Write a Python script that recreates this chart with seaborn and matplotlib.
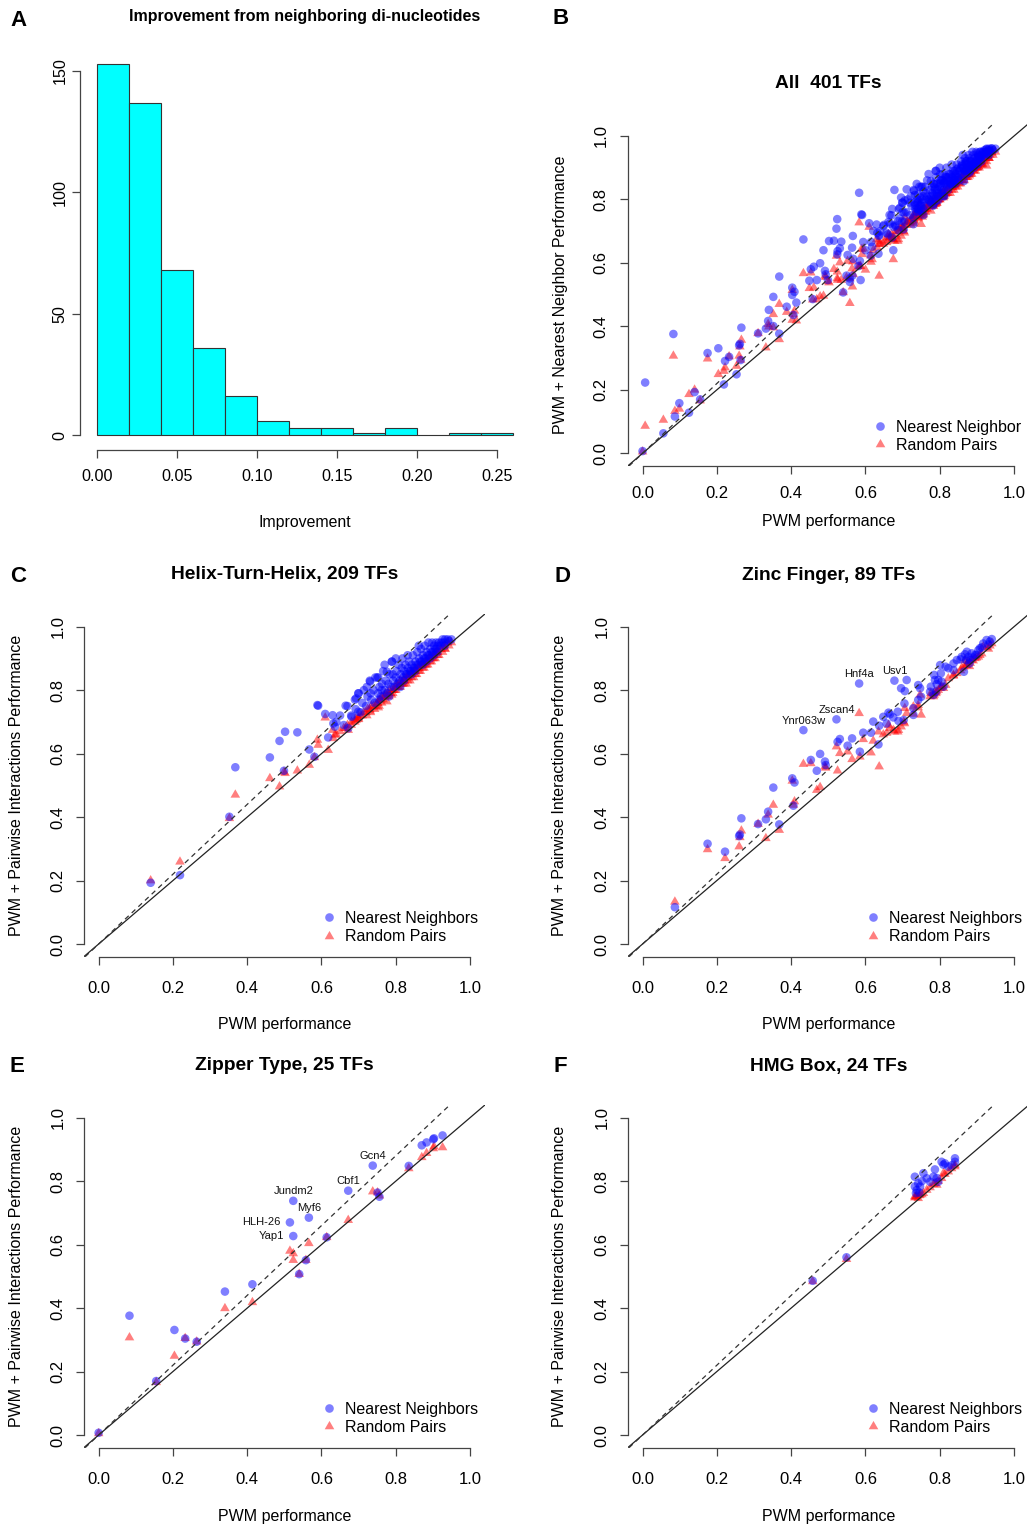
import matplotlib
matplotlib.use("Agg")
import matplotlib.pyplot as plt
import matplotlib.transforms as mtrans
from matplotlib.lines import Line2D
import numpy as np
import pandas as pd
import seaborn as sns

# ---------------- data ----------------
hist_edges = [0.00, 0.02, 0.04, 0.06, 0.08, 0.10, 0.12, 0.14, 0.16, 0.18, 0.20, 0.22, 0.24, 0.26]
hist_counts = [153, 137, 68, 36, 16, 6, 3, 3, 1, 3, 0, 1, 1]

# (PWM performance, PWM + nearest neighbours, PWM + random pairs)
htt_points = [
    (0.140, 0.193, 0.200), (0.219, 0.217, 0.259), (0.352, 0.401, 0.396), (0.368, 0.557, 0.470),
    (0.461, 0.588, 0.522), (0.487, 0.640, 0.496), (0.502, 0.669, 0.538), (0.499, 0.546, 0.542),
    (0.535, 0.667, 0.546), (0.567, 0.613, 0.564), (0.581, 0.590, 0.588), (0.589, 0.753, 0.643),
    (0.591, 0.751, 0.627), (0.610, 0.725, 0.713), (0.618, 0.651, 0.611), (0.630, 0.721, 0.674),
    (0.632, 0.695, 0.648), (0.636, 0.685, 0.659), (0.665, 0.751, 0.680), (0.672, 0.680, 0.674),
    (0.681, 0.716, 0.700), (0.693, 0.774, 0.705), (0.699, 0.790, 0.715), (0.699, 0.732, 0.708),
    (0.731, 0.827, 0.735), (0.753, 0.840, 0.745), (0.776, 0.858, 0.764), (0.789, 0.890, 0.785),
    (0.64, 0.70, 0.66), (0.65, 0.72, 0.67), (0.66, 0.69, 0.68), (0.67, 0.75, 0.69),
    (0.68, 0.72, 0.69), (0.69, 0.77, 0.70), (0.692, 0.74, 0.71), (0.70, 0.79, 0.71),
    (0.705, 0.73, 0.72), (0.71, 0.76, 0.72), (0.714, 0.80, 0.73), (0.72, 0.75, 0.73),
    (0.724, 0.78, 0.74), (0.73, 0.83, 0.74), (0.734, 0.77, 0.75), (0.74, 0.80, 0.75),
    (0.743, 0.76, 0.74), (0.75, 0.84, 0.76), (0.752, 0.79, 0.76), (0.756, 0.81, 0.77),
    (0.76, 0.78, 0.77), (0.763, 0.82, 0.78), (0.766, 0.86, 0.77), (0.77, 0.80, 0.78),
    (0.773, 0.83, 0.79), (0.776, 0.79, 0.78), (0.78, 0.82, 0.79), (0.783, 0.85, 0.80),
    (0.786, 0.81, 0.79), (0.79, 0.89, 0.80), (0.793, 0.83, 0.80), (0.796, 0.81, 0.80),
    (0.80, 0.84, 0.81), (0.802, 0.86, 0.82), (0.805, 0.82, 0.81), (0.808, 0.88, 0.81),
    (0.81, 0.83, 0.82), (0.813, 0.85, 0.83), (0.816, 0.87, 0.82), (0.818, 0.90, 0.82),
    (0.82, 0.84, 0.83), (0.823, 0.86, 0.83), (0.826, 0.88, 0.84), (0.828, 0.85, 0.82),
    (0.83, 0.85, 0.84), (0.833, 0.87, 0.84), (0.836, 0.89, 0.85), (0.838, 0.86, 0.83),
    (0.84, 0.86, 0.85), (0.843, 0.88, 0.85), (0.846, 0.91, 0.86), (0.848, 0.87, 0.84),
    (0.85, 0.87, 0.86), (0.853, 0.89, 0.86), (0.856, 0.88, 0.85), (0.858, 0.92, 0.87),
    (0.86, 0.88, 0.87), (0.863, 0.90, 0.87), (0.866, 0.89, 0.86), (0.868, 0.93, 0.88),
    (0.87, 0.89, 0.88), (0.873, 0.91, 0.88), (0.876, 0.90, 0.87), (0.878, 0.94, 0.88),
    (0.88, 0.90, 0.89), (0.883, 0.92, 0.89), (0.886, 0.91, 0.88), (0.888, 0.95, 0.90),
    (0.89, 0.91, 0.90), (0.893, 0.93, 0.90), (0.896, 0.92, 0.89), (0.898, 0.95, 0.90),
    (0.90, 0.92, 0.91), (0.903, 0.94, 0.91), (0.906, 0.93, 0.90), (0.908, 0.95, 0.92),
    (0.91, 0.93, 0.92), (0.913, 0.94, 0.92), (0.916, 0.95, 0.91), (0.92, 0.94, 0.93),
    (0.923, 0.95, 0.93), (0.926, 0.96, 0.92), (0.93, 0.95, 0.94), (0.933, 0.96, 0.93),
    (0.94, 0.96, 0.95), (0.943, 0.955, 0.94), (0.95, 0.96, 0.95), (0.77, 0.88, 0.78),
    (0.745, 0.84, 0.75), (0.722, 0.81, 0.72), (0.80, 0.90, 0.80), (0.832, 0.91, 0.83),
    (0.862, 0.94, 0.86), (0.792, 0.85, 0.79), (0.762, 0.80, 0.76), (0.732, 0.79, 0.73),
    (0.755, 0.77, 0.75), (0.822, 0.83, 0.82), (0.842, 0.85, 0.84), (0.872, 0.88, 0.87),
    (0.892, 0.90, 0.89), (0.912, 0.92, 0.91), (0.932, 0.94, 0.93), (0.782, 0.78, 0.78),
    (0.812, 0.81, 0.81), (0.852, 0.86, 0.85), (0.882, 0.89, 0.88), (0.902, 0.91, 0.90),
]

zf_points = [
    (0.087, 0.116, 0.133), (0.175, 0.316, 0.298), (0.222, 0.291, 0.270), (0.260, 0.340, 0.307),
    (0.266, 0.396, 0.357), (0.262, 0.345, 0.336), (0.311, 0.378, 0.378), (0.332, 0.393, 0.333),
    (0.338, 0.417, 0.407), (0.368, 0.377, 0.359), (0.352, 0.493, 0.438), (0.403, 0.522, 0.514),
    (0.409, 0.509, 0.449), (0.406, 0.436, 0.438), (0.433, 0.674, 0.567), (0.453, 0.580, 0.569),
    (0.469, 0.546, 0.485), (0.478, 0.599, 0.494), (0.491, 0.575, 0.559), (0.493, 0.564, 0.555),
    (0.522, 0.708, 0.622), (0.525, 0.637, 0.546), (0.531, 0.646, 0.601), (0.552, 0.625, 0.606),
    (0.564, 0.648, 0.582), (0.583, 0.821, 0.727), (0.594, 0.666, 0.645), (0.615, 0.666, 0.603),
    (0.637, 0.688, 0.559), (0.635, 0.629, 0.669), (0.662, 0.729, 0.690), (0.666, 0.724, 0.680),
    (0.678, 0.830, 0.669), (0.687, 0.732, 0.669), (0.696, 0.806, 0.685), (0.711, 0.832, 0.727),
    (0.706, 0.797, 0.743), (0.705, 0.758, 0.695), (0.703, 0.706, 0.700), (0.689, 0.703, 0.674),
    (0.675, 0.714, 0.674), (0.729, 0.743, 0.748), (0.742, 0.816, 0.753), (0.747, 0.806, 0.785),
    (0.750, 0.779, 0.722), (0.776, 0.811, 0.790), (0.785, 0.848, 0.785), (0.792, 0.819, 0.795),
    (0.796, 0.832, 0.800), (0.801, 0.879, 0.806), (0.803, 0.853, 0.810), (0.816, 0.874, 0.816),
    (0.823, 0.869, 0.837), (0.837, 0.863, 0.848), (0.846, 0.895, 0.853), (0.865, 0.858, 0.874),
    (0.868, 0.913, 0.895), (0.877, 0.905, 0.890), (0.882, 0.895, 0.885), (0.886, 0.916, 0.895),
    (0.890, 0.903, 0.893), (0.895, 0.911, 0.900), (0.904, 0.926, 0.905), (0.917, 0.947, 0.937),
    (0.926, 0.958, 0.935), (0.931, 0.944, 0.930), (0.940, 0.961, 0.947), (0.873, 0.921, 0.880),
    (0.790, 0.795, 0.790), (0.783, 0.785, 0.780), (0.859, 0.905, 0.870), (0.871, 0.895, 0.878),
    (0.899, 0.911, 0.902), (0.908, 0.932, 0.910), (0.880, 0.884, 0.875), (0.856, 0.897, 0.862),
    (0.805, 0.827, 0.812), (0.810, 0.811, 0.806), (0.657, 0.695, 0.665), (0.648, 0.716, 0.660),
    (0.729, 0.722, 0.725), (0.742, 0.769, 0.745), (0.621, 0.701, 0.640), (0.585, 0.606, 0.590),
    (0.935, 0.953, 0.940), (0.913, 0.935, 0.915), (0.837, 0.884, 0.845), (0.787, 0.832, 0.795),
    (0.774, 0.795, 0.780),
]

zip_points = [
    (0.000, 0.007, 0.005), (0.083, 0.376, 0.307), (0.155, 0.170, 0.166), (0.204, 0.331, 0.249),
    (0.233, 0.304, 0.305), (0.264, 0.294, 0.294), (0.340, 0.452, 0.399), (0.414, 0.475, 0.418),
    (0.515, 0.670, 0.580), (0.524, 0.627, 0.551), (0.524, 0.738, 0.572), (0.566, 0.685, 0.604),
    (0.540, 0.507, 0.507), (0.558, 0.551, 0.551), (0.614, 0.623, 0.623), (0.672, 0.770, 0.677),
    (0.738, 0.849, 0.767), (0.751, 0.764, 0.764), (0.756, 0.751, 0.754), (0.835, 0.848, 0.840),
    (0.870, 0.913, 0.875), (0.883, 0.922, 0.888), (0.901, 0.932, 0.903), (0.903, 0.935, 0.909),
    (0.926, 0.944, 0.906),
]

hmg_points = [
    (0.458, 0.486, 0.484), (0.549, 0.560, 0.554), (0.733, 0.814, 0.752), (0.733, 0.783, 0.748),
    (0.736, 0.762, 0.750), (0.738, 0.772, 0.753), (0.742, 0.793, 0.746), (0.745, 0.764, 0.755),
    (0.747, 0.783, 0.757), (0.752, 0.800, 0.758), (0.756, 0.825, 0.762), (0.765, 0.809, 0.772),
    (0.774, 0.798, 0.780), (0.783, 0.814, 0.790), (0.787, 0.837, 0.793), (0.792, 0.810, 0.788),
    (0.796, 0.798, 0.800), (0.805, 0.861, 0.809), (0.810, 0.852, 0.825), (0.814, 0.856, 0.822),
    (0.823, 0.846, 0.830), (0.832, 0.850, 0.840), (0.841, 0.872, 0.851), (0.841, 0.861, 0.846),
]

other_points = [
    (0.007, 0.223, 0.086), (0.056, 0.063, 0.105), (0.099, 0.158, 0.140), (0.125, 0.128, 0.186),
    (0.253, 0.249, 0.275), (0.388, 0.462, 0.445), (0.403, 0.499, 0.420), (0.449, 0.544, 0.520),
    (0.587, 0.546, 0.590), (0.558, 0.540, 0.473), (0.675, 0.640, 0.611), (0.565, 0.560, 0.525),
    (0.600, 0.640, 0.578), (0.70, 0.76, 0.71), (0.74, 0.79, 0.75), (0.78, 0.84, 0.79),
    (0.80, 0.85, 0.80), (0.82, 0.87, 0.83), (0.84, 0.89, 0.85), (0.86, 0.91, 0.86),
    (0.88, 0.93, 0.89), (0.90, 0.945, 0.91), (0.92, 0.955, 0.925), (0.76, 0.84, 0.77),
    (0.79, 0.87, 0.80), (0.83, 0.88, 0.84), (0.87, 0.92, 0.87), (0.89, 0.94, 0.90),
    (0.91, 0.95, 0.915), (0.93, 0.955, 0.935), (0.85, 0.90, 0.855), (0.81, 0.86, 0.815),
    (0.72, 0.79, 0.73),
]

zf_labels = [("Ynr063w", 0.433, 0.674, "above"), ("Zscan4", 0.522, 0.708, "above"),
             ("Hnf4a", 0.583, 0.821, "above"), ("Usv1", 0.678, 0.830, "above")]
zip_labels = [("Gcn4", 0.738, 0.849, "above"), ("Cbf1", 0.672, 0.770, "above"),
              ("Jundm2", 0.524, 0.738, "above"), ("Myf6", 0.566, 0.685, "above"),
              ("HLH-26", 0.515, 0.670, "left"), ("Yap1", 0.524, 0.627, "left")]

ticks01 = [0.0, 0.2, 0.4, 0.6, 0.8, 1.0]
hist_xticks = [0.00, 0.05, 0.10, 0.15, 0.20, 0.25]
hist_yticks = [0, 50, 100, 150]

# ---------------- style ----------------
sns.set_style("white")
plt.rcParams["font.family"] = ["Liberation Sans", "DejaVu Sans"]
plt.rcParams["text.color"] = "black"
plt.rcParams["axes.labelcolor"] = "black"
plt.rcParams["xtick.color"] = "#444444"
plt.rcParams["ytick.color"] = "#444444"

W, H = 1027, 1525
fig = plt.figure(figsize=(W / 100, H / 100), dpi=100)
fig.patch.set_facecolor("white")


def fx(px):
    return px / W


def fy(py):
    return 1 - py / H


def make_axes(l, t, r, b):
    return fig.add_axes([l / W, 1 - b / H, (r - l) / W, (b - t) / H])


def style_axes(ax, xticks, yticks, xfmt, yfmt, xpad, ypad, fs):
    for s in ["top", "right"]:
        ax.spines[s].set_visible(False)
    for s in ["left", "bottom"]:
        ax.spines[s].set_color("#444444")
        ax.spines[s].set_linewidth(0.9)
    ax.spines["bottom"].set_bounds(xticks[0], xticks[-1])
    ax.spines["left"].set_bounds(yticks[0], yticks[-1])
    ax.set_xticks(xticks)
    ax.set_xticklabels([xfmt.format(v) for v in xticks], fontsize=fs, color="black")
    ax.set_yticks(yticks)
    ax.set_yticklabels([yfmt.format(v) for v in yticks], fontsize=fs, color="black",
                       rotation=90, va="center", ha="right")
    ax.tick_params(axis="x", direction="out", length=6, width=0.9, pad=xpad, bottom=True)
    ax.tick_params(axis="y", direction="out", length=6, width=0.9, pad=ypad, left=True)
    ax.grid(False)


# ---------------- panel A ----------------
axA = make_axes(80.4, 48.9, 529.6, 450.0)
centers = [(a + b) / 2 for a, b in zip(hist_edges[:-1], hist_edges[1:])]
sns.histplot(x=centers, weights=hist_counts, bins=hist_edges, ax=axA, color="#00ffff",
             edgecolor="#333333", linewidth=0.8, alpha=1.0)
axA.set_xlim(-0.0104, 0.2704)
axA.set_ylim(-6.12, 159.12)
style_axes(axA, hist_xticks, hist_yticks, "{:.2f}", "{:d}", 7.8, 3.4, 11.6)
axA.set_ylabel("")
axA.set_xlabel("Improvement", fontsize=11.4, va="center")
axA.xaxis.set_label_coords(0.5, fy(523), transform=mtrans.blended_transform_factory(axA.transAxes, fig.transFigure))
axA.set_title("Improvement from neighboring di-nucleotides", fontsize=11.5, fontweight="bold",
              y=(450.0 - 17.0) / (450.0 - 48.9), pad=0, va="center")


# ---------------- scatter panels ----------------
def scatter_panel(rect, pts, title, ylabel, nn_label, title_py, xlabel_py, ylabel_px,
                  legend_px, xpad, ypad, labels=()):
    l, t, r, b = rect
    ax = make_axes(l, t, r, b)
    df = pd.DataFrame(pts, columns=["pwm", "nn", "rp"])
    sns.scatterplot(data=df, x="pwm", y="rp", ax=ax, color="red", alpha=0.5, marker=(3, 0, 0),
                    s=64, linewidth=0, edgecolor="none", legend=False, zorder=2)
    sns.scatterplot(data=df, x="pwm", y="nn", ax=ax, color="blue", alpha=0.5, marker="o",
                    s=38, linewidth=0, edgecolor="none", legend=False, zorder=3)
    ax.axline((0, 0), slope=1.0, color="#222222", lw=0.9, zorder=4)
    ax.axline((0, 0), slope=1.1, color="#333333", lw=0.9, ls=(0, (4, 3.3)), zorder=4)
    ax.set_xlim(-0.04, 1.04)
    ax.set_ylim(-0.04, 1.04)
    style_axes(ax, ticks01, ticks01, "{:.1f}", "{:.1f}", xpad, ypad, 12)
    ax.set_xlabel("PWM performance", fontsize=11.5, va="center")
    ax.xaxis.set_label_coords(0.5, fy(xlabel_py),
                              transform=mtrans.blended_transform_factory(ax.transAxes, fig.transFigure))
    ax.set_ylabel(ylabel, fontsize=11.5, va="center", ha="center")
    ax.yaxis.set_label_coords(fx(ylabel_px), 0.5,
                              transform=mtrans.blended_transform_factory(fig.transFigure, ax.transAxes))
    ax.set_title(title, fontsize=13.8, fontweight="bold", y=(b - title_py) / (b - t), pad=0, va="center")
    for name, x, y, side in labels:
        if side == "above":
            ax.annotate(name, (x, y), xytext=(0, 6.8), textcoords="offset points",
                        ha="center", va="center", fontsize=8, color="#111111")
        else:
            ax.annotate(name, (x, y), xytext=(-6.5, 0), textcoords="offset points",
                        ha="right", va="center", fontsize=8, color="#111111")
    handles = [
        Line2D([], [], ls="none", marker="o", color="blue", alpha=0.5, markersize=6.2, markeredgewidth=0),
        Line2D([], [], ls="none", marker=(3, 0, 0), color="red", alpha=0.5, markersize=8.0, markeredgewidth=0),
    ]
    ax.legend(handles, [nn_label, "Random Pairs"], loc="center left",
              bbox_to_anchor=(fx(legend_px[0]), fy(legend_px[1])), bbox_transform=fig.transFigure,
              frameon=False, fontsize=11.5, handlelength=1.0, handletextpad=0.5,
              labelspacing=0.2, borderpad=0, borderaxespad=0)
    return ax


all_points = htt_points + zf_points + zip_points + hmg_points + other_points

scatter_panel((627.7, 123.3, 1028.9, 466.0), all_points, "All  401 TFs",
              "PWM + Nearest Neighbor Performance", "Nearest Neighbor",
              84, 521.7, 560.7, (872, 436.2), 8.5, 7.6)
scatter_panel((83.8, 614.0, 484.9, 956.7), htt_points, "Helix-Turn-Helix, 209 TFs",
              "PWM + Pairwise Interactions Performance", "Nearest Neighbors",
              575, 1025, 16.7, (321, 927.5), 11.2, 7.0)
scatter_panel((627.7, 614.0, 1028.9, 956.7), zf_points, "Zinc Finger, 89 TFs",
              "PWM + Pairwise Interactions Performance", "Nearest Neighbors",
              575, 1024.3, 560.0, (864.7, 927.5), 11.2, 7.0, zf_labels)
scatter_panel((83.8, 1105.0, 484.9, 1447.7), zip_points, "Zipper Type, 25 TFs",
              "PWM + Pairwise Interactions Performance", "Nearest Neighbors",
              1066, 1516, 16.7, (321, 1418.4), 11.2, 7.0, zip_labels)
scatter_panel((627.7, 1105.0, 1028.9, 1447.7), hmg_points, "HMG Box, 24 TFs",
              "PWM + Pairwise Interactions Performance", "Nearest Neighbors",
              1066, 1516, 560.0, (864.7, 1418.4), 11.2, 7.0)

# panel letters
for letter, px, py in [("A", 18.5, 20), ("B", 561, 19), ("C", 18, 577),
                       ("D", 562, 576), ("E", 17, 1067), ("F", 560, 1067)]:
    fig.text(fx(px), fy(py), letter, fontsize=16, fontweight="bold", ha="center", va="center")

fig.savefig("out.png", dpi=100)
